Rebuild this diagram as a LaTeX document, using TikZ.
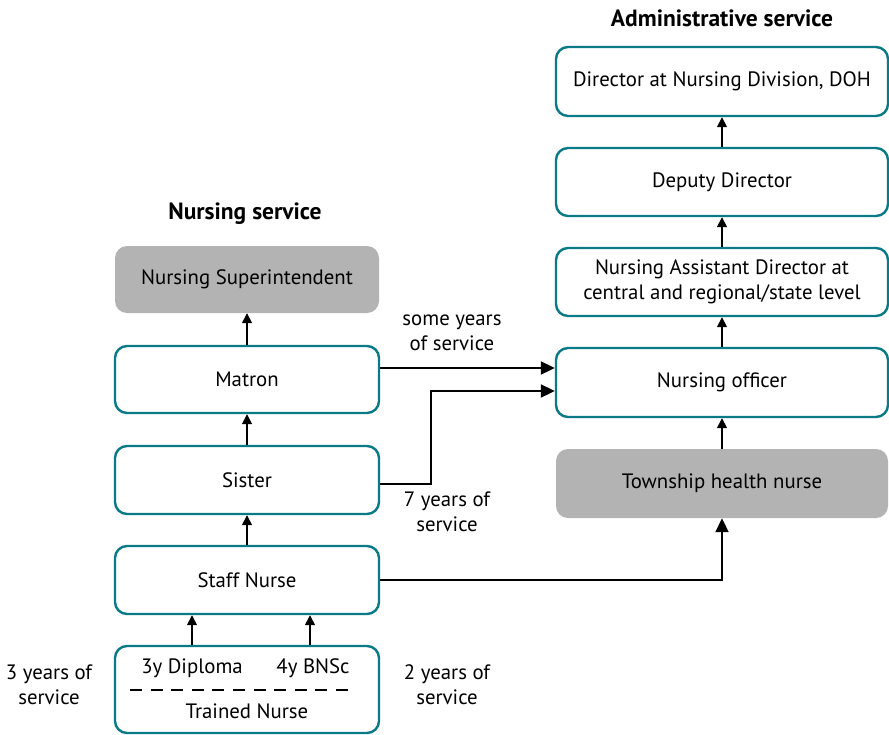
\documentclass[tikz,border=0pt]{standalone}
\usepackage{fontspec}
\setmainfont{PT Sans}
\usetikzlibrary{arrows.meta}
\definecolor{teal1}{HTML}{0A7A87}
\definecolor{gray1}{HTML}{B3B3B3}
\begin{document}
\begin{tikzpicture}[x=1pt,y=-1pt,
  box/.style={draw=teal1,line width=2.4pt,rounded corners=12pt,fill=white,font=\fontsize{20.8}{25}\selectfont,align=center},
  gbox/.style={fill=gray1,rounded corners=12pt,font=\fontsize{20.8}{25}\selectfont,align=center},
  lbl/.style={font=\fontsize{20.8}{25}\selectfont,align=center},
  ttl/.style={font=\fontsize{23.5}{28}\selectfont\bfseries},
  arr/.style={line width=1.6pt,-{Triangle[length=10pt,width=10pt]}},
  arrb/.style={line width=2pt,-{Triangle[length=14pt,width=13pt]}}]
\useasboundingbox (0,0) rectangle (889,734);
% left column
\node[gbox,minimum width=264pt,minimum height=67pt] (ns) at (247,279.5) {Nursing Superintendent};
\node[box,minimum width=264pt,minimum height=67pt] (mat) at (247,379.5) {Matron};
\node[box,minimum width=264pt,minimum height=68pt] (sis) at (247,480) {Sister};
\node[box,minimum width=264pt,minimum height=68pt] (sn) at (247,580) {Staff Nurse};
\node[box,minimum width=264pt,minimum height=87pt] (tn) at (247,689.5) {};
\node[lbl] (dip) at (192,668) {3y Diploma};
\node[lbl] (bns) at (313,668) {4y BNSc};
\node[lbl] (tnl) at (247,711) {Trained Nurse};
\coordinate (d1) at (130,690);
\coordinate (d2) at (356,690);
\draw[line width=2pt,dash pattern=on 12pt off 8.6pt] (d1) -- (d2);
\node[ttl] (t1) at (245,214) {Nursing service};
% right column
\node[box,minimum width=332pt,minimum height=69pt] (dir) at (722,81.5) {Director at Nursing Division, DOH};
\node[box,minimum width=332pt,minimum height=68pt] (dep) at (722,182) {Deputy Director};
\node[box,minimum width=332pt,minimum height=68pt] (nad) at (722,282) {Nursing Assistant Director at\\central and regional/state level};
\node[box,minimum width=332pt,minimum height=69pt] (no) at (722,382.5) {Nursing officer};
\node[gbox,minimum width=332pt,minimum height=69pt] (th) at (722,483.5) {Township health nurse};
\node[ttl] (t2) at (722,18) {Administrative service};
% labels
\node[lbl] (l1) at (452,333) {some years\\of service};
\node[lbl] (l2) at (447,512) {7 years of\\service};
\node[lbl] (l3) at (49,685) {3 years of\\service};
\node[lbl] (l4) at (447,685) {2 years of\\service};
% vertical arrows
\draw[arr] (mat.north) -- (ns.south);
\draw[arr] (sis.north) -- (mat.south);
\draw[arr] (sn.north) -- (sis.south);
\draw[arr] (tn.north -| dip) -- (sn.south -| dip);
\draw[arr] (tn.north -| 310,0) -- (sn.south -| 310,0);
\draw[arr] (dep.north) -- (dir.south);
\draw[arr] (nad.north) -- (dep.south);
\draw[arr] (no.north) -- (nad.south);
\draw[arr] (th.north) -- (no.south);
% cross arrows
\draw[arrb] (mat.east |- 0,368) -- (no.west |- 0,368);
\draw[arrb] (sis.east |- 0,484) -- (431,484) -- (431,391) -- (no.west |- 0,391);
\draw[arrb] (sn.east |- 0,580) -- (722,580) -- (th.south);
\end{tikzpicture}
\end{document}
